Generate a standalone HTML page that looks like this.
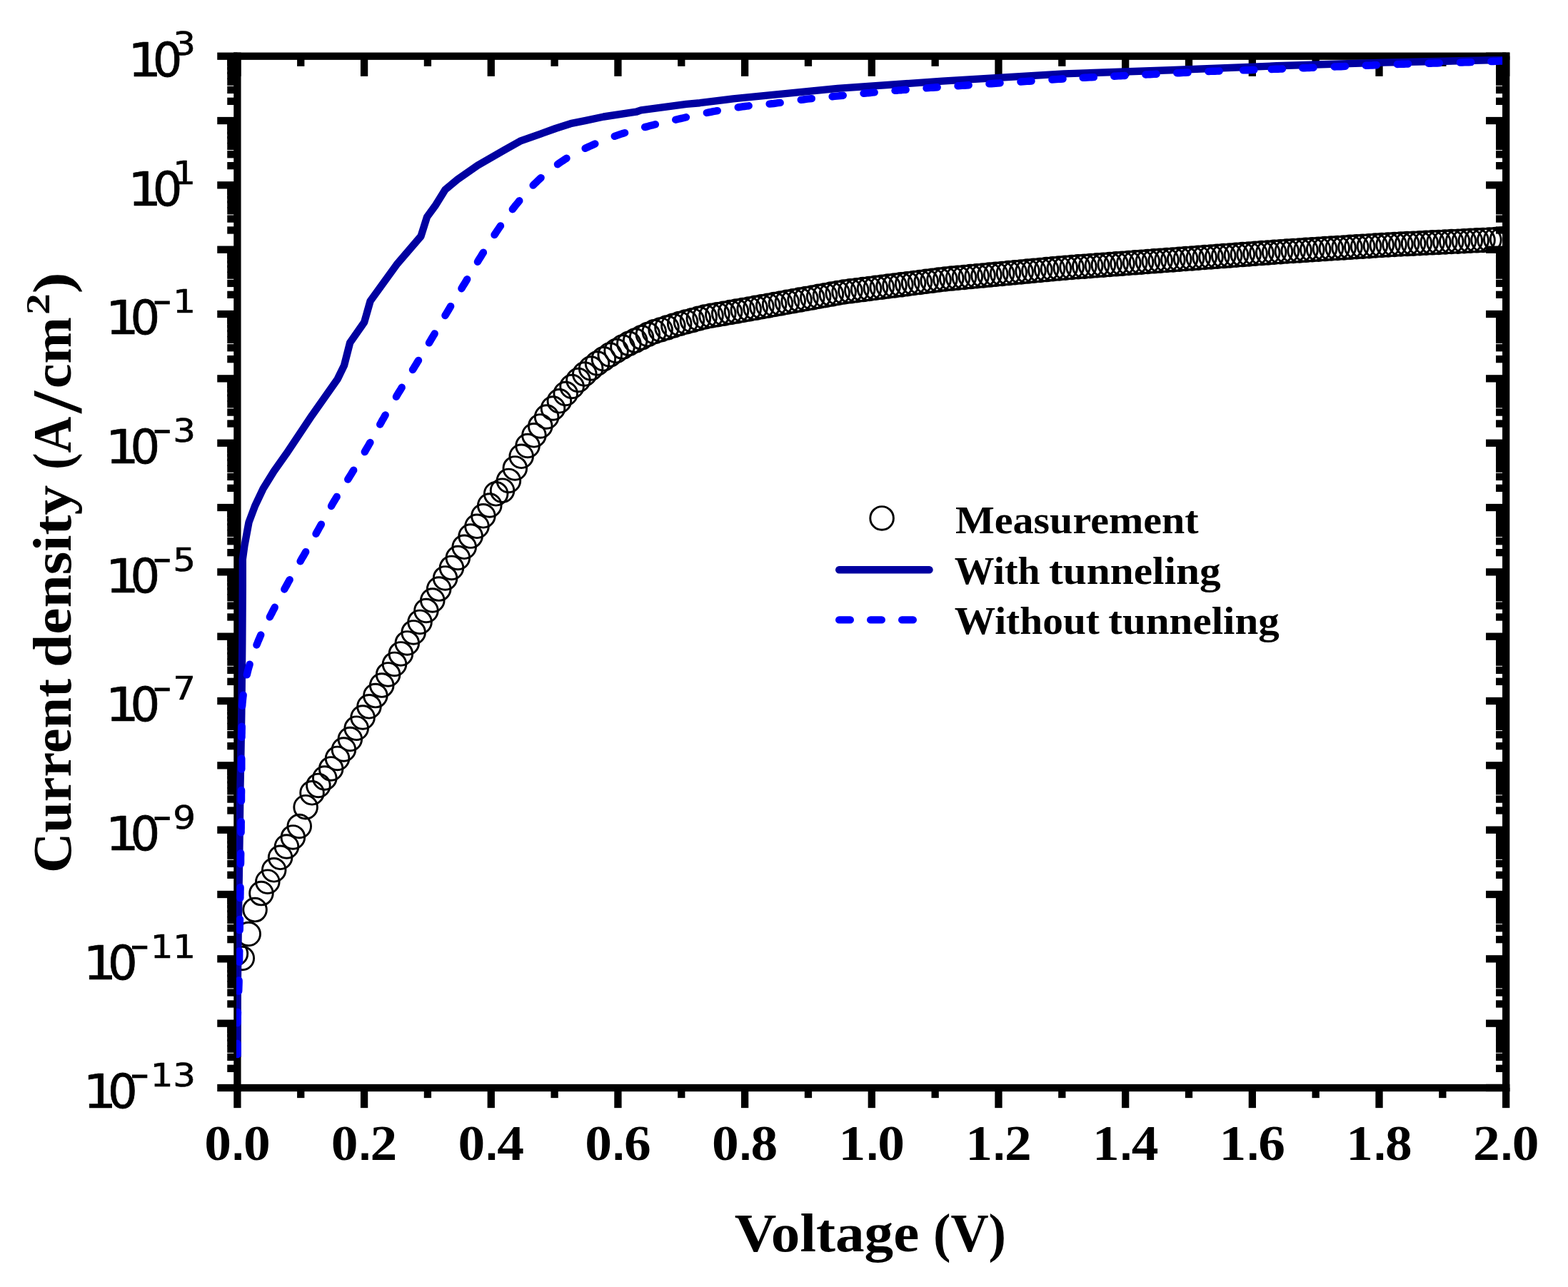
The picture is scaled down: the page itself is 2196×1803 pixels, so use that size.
<!DOCTYPE html>
<html><head><meta charset="utf-8"><title>Current density vs Voltage</title>
<style>html,body{margin:0;padding:0;background:#fff;overflow:hidden;width:2196px;height:1803px;}svg{display:block;}</style></head>
<body><svg width="2196" height="1803" viewBox="0 0 2196 1803">
<defs><clipPath id="plotclip"><rect x="331" y="78.4" width="1773.1" height="1450.6"/></clipPath></defs>
<rect width="2196" height="1803" fill="#fff"/>
<rect x="327.25" y="73.55" width="1787.10" height="10.30" fill="#000"/>
<rect x="327.25" y="1518.85" width="1787.10" height="10.30" fill="#000"/>
<rect x="327.25" y="73.55" width="10.30" height="1455.60" fill="#000"/>
<rect x="2104.05" y="73.55" width="10.30" height="1455.60" fill="#000"/>
<rect x="327.25" y="1524.00" width="10.30" height="28.15" fill="#000"/>
<rect x="327.25" y="78.70" width="10.30" height="28.15" fill="#000"/>
<rect x="416.09" y="1524.00" width="10.30" height="14.15" fill="#000"/>
<rect x="416.09" y="78.70" width="10.30" height="14.15" fill="#000"/>
<rect x="504.93" y="1524.00" width="10.30" height="28.15" fill="#000"/>
<rect x="504.93" y="78.70" width="10.30" height="28.15" fill="#000"/>
<rect x="593.77" y="1524.00" width="10.30" height="14.15" fill="#000"/>
<rect x="593.77" y="78.70" width="10.30" height="14.15" fill="#000"/>
<rect x="682.61" y="1524.00" width="10.30" height="28.15" fill="#000"/>
<rect x="682.61" y="78.70" width="10.30" height="28.15" fill="#000"/>
<rect x="771.45" y="1524.00" width="10.30" height="14.15" fill="#000"/>
<rect x="771.45" y="78.70" width="10.30" height="14.15" fill="#000"/>
<rect x="860.29" y="1524.00" width="10.30" height="28.15" fill="#000"/>
<rect x="860.29" y="78.70" width="10.30" height="28.15" fill="#000"/>
<rect x="949.13" y="1524.00" width="10.30" height="14.15" fill="#000"/>
<rect x="949.13" y="78.70" width="10.30" height="14.15" fill="#000"/>
<rect x="1037.97" y="1524.00" width="10.30" height="28.15" fill="#000"/>
<rect x="1037.97" y="78.70" width="10.30" height="28.15" fill="#000"/>
<rect x="1126.81" y="1524.00" width="10.30" height="14.15" fill="#000"/>
<rect x="1126.81" y="78.70" width="10.30" height="14.15" fill="#000"/>
<rect x="1215.65" y="1524.00" width="10.30" height="28.15" fill="#000"/>
<rect x="1215.65" y="78.70" width="10.30" height="28.15" fill="#000"/>
<rect x="1304.49" y="1524.00" width="10.30" height="14.15" fill="#000"/>
<rect x="1304.49" y="78.70" width="10.30" height="14.15" fill="#000"/>
<rect x="1393.33" y="1524.00" width="10.30" height="28.15" fill="#000"/>
<rect x="1393.33" y="78.70" width="10.30" height="28.15" fill="#000"/>
<rect x="1482.17" y="1524.00" width="10.30" height="14.15" fill="#000"/>
<rect x="1482.17" y="78.70" width="10.30" height="14.15" fill="#000"/>
<rect x="1571.01" y="1524.00" width="10.30" height="28.15" fill="#000"/>
<rect x="1571.01" y="78.70" width="10.30" height="28.15" fill="#000"/>
<rect x="1659.85" y="1524.00" width="10.30" height="14.15" fill="#000"/>
<rect x="1659.85" y="78.70" width="10.30" height="14.15" fill="#000"/>
<rect x="1748.69" y="1524.00" width="10.30" height="28.15" fill="#000"/>
<rect x="1748.69" y="78.70" width="10.30" height="28.15" fill="#000"/>
<rect x="1837.53" y="1524.00" width="10.30" height="14.15" fill="#000"/>
<rect x="1837.53" y="78.70" width="10.30" height="14.15" fill="#000"/>
<rect x="1926.37" y="1524.00" width="10.30" height="28.15" fill="#000"/>
<rect x="1926.37" y="78.70" width="10.30" height="28.15" fill="#000"/>
<rect x="2015.21" y="1524.00" width="10.30" height="14.15" fill="#000"/>
<rect x="2015.21" y="78.70" width="10.30" height="14.15" fill="#000"/>
<rect x="2104.05" y="1524.00" width="10.30" height="28.15" fill="#000"/>
<rect x="2104.05" y="78.70" width="10.30" height="28.15" fill="#000"/>
<rect x="304.25" y="1518.85" width="28.15" height="10.30" fill="#000"/>
<rect x="2081.05" y="1518.85" width="28.15" height="10.30" fill="#000"/>
<rect x="318.25" y="1491.66" width="14.15" height="10.30" fill="#000"/>
<rect x="2095.05" y="1491.66" width="14.15" height="10.30" fill="#000"/>
<rect x="318.25" y="1475.75" width="14.15" height="10.30" fill="#000"/>
<rect x="2095.05" y="1475.75" width="14.15" height="10.30" fill="#000"/>
<rect x="318.25" y="1464.47" width="14.15" height="10.30" fill="#000"/>
<rect x="2095.05" y="1464.47" width="14.15" height="10.30" fill="#000"/>
<rect x="318.25" y="1455.71" width="14.15" height="10.30" fill="#000"/>
<rect x="2095.05" y="1455.71" width="14.15" height="10.30" fill="#000"/>
<rect x="318.25" y="1448.56" width="14.15" height="10.30" fill="#000"/>
<rect x="2095.05" y="1448.56" width="14.15" height="10.30" fill="#000"/>
<rect x="318.25" y="1442.51" width="14.15" height="10.30" fill="#000"/>
<rect x="2095.05" y="1442.51" width="14.15" height="10.30" fill="#000"/>
<rect x="318.25" y="1437.27" width="14.15" height="10.30" fill="#000"/>
<rect x="2095.05" y="1437.27" width="14.15" height="10.30" fill="#000"/>
<rect x="318.25" y="1432.65" width="14.15" height="10.30" fill="#000"/>
<rect x="2095.05" y="1432.65" width="14.15" height="10.30" fill="#000"/>
<rect x="304.25" y="1428.52" width="28.15" height="10.30" fill="#000"/>
<rect x="2081.05" y="1428.52" width="28.15" height="10.30" fill="#000"/>
<rect x="318.25" y="1401.33" width="14.15" height="10.30" fill="#000"/>
<rect x="2095.05" y="1401.33" width="14.15" height="10.30" fill="#000"/>
<rect x="318.25" y="1385.42" width="14.15" height="10.30" fill="#000"/>
<rect x="2095.05" y="1385.42" width="14.15" height="10.30" fill="#000"/>
<rect x="318.25" y="1374.13" width="14.15" height="10.30" fill="#000"/>
<rect x="2095.05" y="1374.13" width="14.15" height="10.30" fill="#000"/>
<rect x="318.25" y="1365.38" width="14.15" height="10.30" fill="#000"/>
<rect x="2095.05" y="1365.38" width="14.15" height="10.30" fill="#000"/>
<rect x="318.25" y="1358.23" width="14.15" height="10.30" fill="#000"/>
<rect x="2095.05" y="1358.23" width="14.15" height="10.30" fill="#000"/>
<rect x="318.25" y="1352.18" width="14.15" height="10.30" fill="#000"/>
<rect x="2095.05" y="1352.18" width="14.15" height="10.30" fill="#000"/>
<rect x="318.25" y="1346.94" width="14.15" height="10.30" fill="#000"/>
<rect x="2095.05" y="1346.94" width="14.15" height="10.30" fill="#000"/>
<rect x="318.25" y="1342.32" width="14.15" height="10.30" fill="#000"/>
<rect x="2095.05" y="1342.32" width="14.15" height="10.30" fill="#000"/>
<rect x="304.25" y="1338.19" width="28.15" height="10.30" fill="#000"/>
<rect x="2081.05" y="1338.19" width="28.15" height="10.30" fill="#000"/>
<rect x="318.25" y="1311.00" width="14.15" height="10.30" fill="#000"/>
<rect x="2095.05" y="1311.00" width="14.15" height="10.30" fill="#000"/>
<rect x="318.25" y="1295.09" width="14.15" height="10.30" fill="#000"/>
<rect x="2095.05" y="1295.09" width="14.15" height="10.30" fill="#000"/>
<rect x="318.25" y="1283.80" width="14.15" height="10.30" fill="#000"/>
<rect x="2095.05" y="1283.80" width="14.15" height="10.30" fill="#000"/>
<rect x="318.25" y="1275.05" width="14.15" height="10.30" fill="#000"/>
<rect x="2095.05" y="1275.05" width="14.15" height="10.30" fill="#000"/>
<rect x="318.25" y="1267.90" width="14.15" height="10.30" fill="#000"/>
<rect x="2095.05" y="1267.90" width="14.15" height="10.30" fill="#000"/>
<rect x="318.25" y="1261.85" width="14.15" height="10.30" fill="#000"/>
<rect x="2095.05" y="1261.85" width="14.15" height="10.30" fill="#000"/>
<rect x="318.25" y="1256.61" width="14.15" height="10.30" fill="#000"/>
<rect x="2095.05" y="1256.61" width="14.15" height="10.30" fill="#000"/>
<rect x="318.25" y="1251.99" width="14.15" height="10.30" fill="#000"/>
<rect x="2095.05" y="1251.99" width="14.15" height="10.30" fill="#000"/>
<rect x="304.25" y="1247.86" width="28.15" height="10.30" fill="#000"/>
<rect x="2081.05" y="1247.86" width="28.15" height="10.30" fill="#000"/>
<rect x="318.25" y="1220.66" width="14.15" height="10.30" fill="#000"/>
<rect x="2095.05" y="1220.66" width="14.15" height="10.30" fill="#000"/>
<rect x="318.25" y="1204.76" width="14.15" height="10.30" fill="#000"/>
<rect x="2095.05" y="1204.76" width="14.15" height="10.30" fill="#000"/>
<rect x="318.25" y="1193.47" width="14.15" height="10.30" fill="#000"/>
<rect x="2095.05" y="1193.47" width="14.15" height="10.30" fill="#000"/>
<rect x="318.25" y="1184.72" width="14.15" height="10.30" fill="#000"/>
<rect x="2095.05" y="1184.72" width="14.15" height="10.30" fill="#000"/>
<rect x="318.25" y="1177.56" width="14.15" height="10.30" fill="#000"/>
<rect x="2095.05" y="1177.56" width="14.15" height="10.30" fill="#000"/>
<rect x="318.25" y="1171.52" width="14.15" height="10.30" fill="#000"/>
<rect x="2095.05" y="1171.52" width="14.15" height="10.30" fill="#000"/>
<rect x="318.25" y="1166.28" width="14.15" height="10.30" fill="#000"/>
<rect x="2095.05" y="1166.28" width="14.15" height="10.30" fill="#000"/>
<rect x="318.25" y="1161.66" width="14.15" height="10.30" fill="#000"/>
<rect x="2095.05" y="1161.66" width="14.15" height="10.30" fill="#000"/>
<rect x="304.25" y="1157.52" width="28.15" height="10.30" fill="#000"/>
<rect x="2081.05" y="1157.52" width="28.15" height="10.30" fill="#000"/>
<rect x="318.25" y="1130.33" width="14.15" height="10.30" fill="#000"/>
<rect x="2095.05" y="1130.33" width="14.15" height="10.30" fill="#000"/>
<rect x="318.25" y="1114.43" width="14.15" height="10.30" fill="#000"/>
<rect x="2095.05" y="1114.43" width="14.15" height="10.30" fill="#000"/>
<rect x="318.25" y="1103.14" width="14.15" height="10.30" fill="#000"/>
<rect x="2095.05" y="1103.14" width="14.15" height="10.30" fill="#000"/>
<rect x="318.25" y="1094.39" width="14.15" height="10.30" fill="#000"/>
<rect x="2095.05" y="1094.39" width="14.15" height="10.30" fill="#000"/>
<rect x="318.25" y="1087.23" width="14.15" height="10.30" fill="#000"/>
<rect x="2095.05" y="1087.23" width="14.15" height="10.30" fill="#000"/>
<rect x="318.25" y="1081.19" width="14.15" height="10.30" fill="#000"/>
<rect x="2095.05" y="1081.19" width="14.15" height="10.30" fill="#000"/>
<rect x="318.25" y="1075.95" width="14.15" height="10.30" fill="#000"/>
<rect x="2095.05" y="1075.95" width="14.15" height="10.30" fill="#000"/>
<rect x="318.25" y="1071.33" width="14.15" height="10.30" fill="#000"/>
<rect x="2095.05" y="1071.33" width="14.15" height="10.30" fill="#000"/>
<rect x="304.25" y="1067.19" width="28.15" height="10.30" fill="#000"/>
<rect x="2081.05" y="1067.19" width="28.15" height="10.30" fill="#000"/>
<rect x="318.25" y="1040.00" width="14.15" height="10.30" fill="#000"/>
<rect x="2095.05" y="1040.00" width="14.15" height="10.30" fill="#000"/>
<rect x="318.25" y="1024.09" width="14.15" height="10.30" fill="#000"/>
<rect x="2095.05" y="1024.09" width="14.15" height="10.30" fill="#000"/>
<rect x="318.25" y="1012.81" width="14.15" height="10.30" fill="#000"/>
<rect x="2095.05" y="1012.81" width="14.15" height="10.30" fill="#000"/>
<rect x="318.25" y="1004.05" width="14.15" height="10.30" fill="#000"/>
<rect x="2095.05" y="1004.05" width="14.15" height="10.30" fill="#000"/>
<rect x="318.25" y="996.90" width="14.15" height="10.30" fill="#000"/>
<rect x="2095.05" y="996.90" width="14.15" height="10.30" fill="#000"/>
<rect x="318.25" y="990.85" width="14.15" height="10.30" fill="#000"/>
<rect x="2095.05" y="990.85" width="14.15" height="10.30" fill="#000"/>
<rect x="318.25" y="985.62" width="14.15" height="10.30" fill="#000"/>
<rect x="2095.05" y="985.62" width="14.15" height="10.30" fill="#000"/>
<rect x="318.25" y="981.00" width="14.15" height="10.30" fill="#000"/>
<rect x="2095.05" y="981.00" width="14.15" height="10.30" fill="#000"/>
<rect x="304.25" y="976.86" width="28.15" height="10.30" fill="#000"/>
<rect x="2081.05" y="976.86" width="28.15" height="10.30" fill="#000"/>
<rect x="318.25" y="949.67" width="14.15" height="10.30" fill="#000"/>
<rect x="2095.05" y="949.67" width="14.15" height="10.30" fill="#000"/>
<rect x="318.25" y="933.76" width="14.15" height="10.30" fill="#000"/>
<rect x="2095.05" y="933.76" width="14.15" height="10.30" fill="#000"/>
<rect x="318.25" y="922.48" width="14.15" height="10.30" fill="#000"/>
<rect x="2095.05" y="922.48" width="14.15" height="10.30" fill="#000"/>
<rect x="318.25" y="913.72" width="14.15" height="10.30" fill="#000"/>
<rect x="2095.05" y="913.72" width="14.15" height="10.30" fill="#000"/>
<rect x="318.25" y="906.57" width="14.15" height="10.30" fill="#000"/>
<rect x="2095.05" y="906.57" width="14.15" height="10.30" fill="#000"/>
<rect x="318.25" y="900.52" width="14.15" height="10.30" fill="#000"/>
<rect x="2095.05" y="900.52" width="14.15" height="10.30" fill="#000"/>
<rect x="318.25" y="895.29" width="14.15" height="10.30" fill="#000"/>
<rect x="2095.05" y="895.29" width="14.15" height="10.30" fill="#000"/>
<rect x="318.25" y="890.66" width="14.15" height="10.30" fill="#000"/>
<rect x="2095.05" y="890.66" width="14.15" height="10.30" fill="#000"/>
<rect x="304.25" y="886.53" width="28.15" height="10.30" fill="#000"/>
<rect x="2081.05" y="886.53" width="28.15" height="10.30" fill="#000"/>
<rect x="318.25" y="859.34" width="14.15" height="10.30" fill="#000"/>
<rect x="2095.05" y="859.34" width="14.15" height="10.30" fill="#000"/>
<rect x="318.25" y="843.43" width="14.15" height="10.30" fill="#000"/>
<rect x="2095.05" y="843.43" width="14.15" height="10.30" fill="#000"/>
<rect x="318.25" y="832.15" width="14.15" height="10.30" fill="#000"/>
<rect x="2095.05" y="832.15" width="14.15" height="10.30" fill="#000"/>
<rect x="318.25" y="823.39" width="14.15" height="10.30" fill="#000"/>
<rect x="2095.05" y="823.39" width="14.15" height="10.30" fill="#000"/>
<rect x="318.25" y="816.24" width="14.15" height="10.30" fill="#000"/>
<rect x="2095.05" y="816.24" width="14.15" height="10.30" fill="#000"/>
<rect x="318.25" y="810.19" width="14.15" height="10.30" fill="#000"/>
<rect x="2095.05" y="810.19" width="14.15" height="10.30" fill="#000"/>
<rect x="318.25" y="804.95" width="14.15" height="10.30" fill="#000"/>
<rect x="2095.05" y="804.95" width="14.15" height="10.30" fill="#000"/>
<rect x="318.25" y="800.33" width="14.15" height="10.30" fill="#000"/>
<rect x="2095.05" y="800.33" width="14.15" height="10.30" fill="#000"/>
<rect x="304.25" y="796.20" width="28.15" height="10.30" fill="#000"/>
<rect x="2081.05" y="796.20" width="28.15" height="10.30" fill="#000"/>
<rect x="318.25" y="769.01" width="14.15" height="10.30" fill="#000"/>
<rect x="2095.05" y="769.01" width="14.15" height="10.30" fill="#000"/>
<rect x="318.25" y="753.10" width="14.15" height="10.30" fill="#000"/>
<rect x="2095.05" y="753.10" width="14.15" height="10.30" fill="#000"/>
<rect x="318.25" y="741.82" width="14.15" height="10.30" fill="#000"/>
<rect x="2095.05" y="741.82" width="14.15" height="10.30" fill="#000"/>
<rect x="318.25" y="733.06" width="14.15" height="10.30" fill="#000"/>
<rect x="2095.05" y="733.06" width="14.15" height="10.30" fill="#000"/>
<rect x="318.25" y="725.91" width="14.15" height="10.30" fill="#000"/>
<rect x="2095.05" y="725.91" width="14.15" height="10.30" fill="#000"/>
<rect x="318.25" y="719.86" width="14.15" height="10.30" fill="#000"/>
<rect x="2095.05" y="719.86" width="14.15" height="10.30" fill="#000"/>
<rect x="318.25" y="714.62" width="14.15" height="10.30" fill="#000"/>
<rect x="2095.05" y="714.62" width="14.15" height="10.30" fill="#000"/>
<rect x="318.25" y="710.00" width="14.15" height="10.30" fill="#000"/>
<rect x="2095.05" y="710.00" width="14.15" height="10.30" fill="#000"/>
<rect x="304.25" y="705.87" width="28.15" height="10.30" fill="#000"/>
<rect x="2081.05" y="705.87" width="28.15" height="10.30" fill="#000"/>
<rect x="318.25" y="678.68" width="14.15" height="10.30" fill="#000"/>
<rect x="2095.05" y="678.68" width="14.15" height="10.30" fill="#000"/>
<rect x="318.25" y="662.77" width="14.15" height="10.30" fill="#000"/>
<rect x="2095.05" y="662.77" width="14.15" height="10.30" fill="#000"/>
<rect x="318.25" y="651.48" width="14.15" height="10.30" fill="#000"/>
<rect x="2095.05" y="651.48" width="14.15" height="10.30" fill="#000"/>
<rect x="318.25" y="642.73" width="14.15" height="10.30" fill="#000"/>
<rect x="2095.05" y="642.73" width="14.15" height="10.30" fill="#000"/>
<rect x="318.25" y="635.58" width="14.15" height="10.30" fill="#000"/>
<rect x="2095.05" y="635.58" width="14.15" height="10.30" fill="#000"/>
<rect x="318.25" y="629.53" width="14.15" height="10.30" fill="#000"/>
<rect x="2095.05" y="629.53" width="14.15" height="10.30" fill="#000"/>
<rect x="318.25" y="624.29" width="14.15" height="10.30" fill="#000"/>
<rect x="2095.05" y="624.29" width="14.15" height="10.30" fill="#000"/>
<rect x="318.25" y="619.67" width="14.15" height="10.30" fill="#000"/>
<rect x="2095.05" y="619.67" width="14.15" height="10.30" fill="#000"/>
<rect x="304.25" y="615.54" width="28.15" height="10.30" fill="#000"/>
<rect x="2081.05" y="615.54" width="28.15" height="10.30" fill="#000"/>
<rect x="318.25" y="588.35" width="14.15" height="10.30" fill="#000"/>
<rect x="2095.05" y="588.35" width="14.15" height="10.30" fill="#000"/>
<rect x="318.25" y="572.44" width="14.15" height="10.30" fill="#000"/>
<rect x="2095.05" y="572.44" width="14.15" height="10.30" fill="#000"/>
<rect x="318.25" y="561.15" width="14.15" height="10.30" fill="#000"/>
<rect x="2095.05" y="561.15" width="14.15" height="10.30" fill="#000"/>
<rect x="318.25" y="552.40" width="14.15" height="10.30" fill="#000"/>
<rect x="2095.05" y="552.40" width="14.15" height="10.30" fill="#000"/>
<rect x="318.25" y="545.25" width="14.15" height="10.30" fill="#000"/>
<rect x="2095.05" y="545.25" width="14.15" height="10.30" fill="#000"/>
<rect x="318.25" y="539.20" width="14.15" height="10.30" fill="#000"/>
<rect x="2095.05" y="539.20" width="14.15" height="10.30" fill="#000"/>
<rect x="318.25" y="533.96" width="14.15" height="10.30" fill="#000"/>
<rect x="2095.05" y="533.96" width="14.15" height="10.30" fill="#000"/>
<rect x="318.25" y="529.34" width="14.15" height="10.30" fill="#000"/>
<rect x="2095.05" y="529.34" width="14.15" height="10.30" fill="#000"/>
<rect x="304.25" y="525.21" width="28.15" height="10.30" fill="#000"/>
<rect x="2081.05" y="525.21" width="28.15" height="10.30" fill="#000"/>
<rect x="318.25" y="498.01" width="14.15" height="10.30" fill="#000"/>
<rect x="2095.05" y="498.01" width="14.15" height="10.30" fill="#000"/>
<rect x="318.25" y="482.11" width="14.15" height="10.30" fill="#000"/>
<rect x="2095.05" y="482.11" width="14.15" height="10.30" fill="#000"/>
<rect x="318.25" y="470.82" width="14.15" height="10.30" fill="#000"/>
<rect x="2095.05" y="470.82" width="14.15" height="10.30" fill="#000"/>
<rect x="318.25" y="462.07" width="14.15" height="10.30" fill="#000"/>
<rect x="2095.05" y="462.07" width="14.15" height="10.30" fill="#000"/>
<rect x="318.25" y="454.91" width="14.15" height="10.30" fill="#000"/>
<rect x="2095.05" y="454.91" width="14.15" height="10.30" fill="#000"/>
<rect x="318.25" y="448.87" width="14.15" height="10.30" fill="#000"/>
<rect x="2095.05" y="448.87" width="14.15" height="10.30" fill="#000"/>
<rect x="318.25" y="443.63" width="14.15" height="10.30" fill="#000"/>
<rect x="2095.05" y="443.63" width="14.15" height="10.30" fill="#000"/>
<rect x="318.25" y="439.01" width="14.15" height="10.30" fill="#000"/>
<rect x="2095.05" y="439.01" width="14.15" height="10.30" fill="#000"/>
<rect x="304.25" y="434.88" width="28.15" height="10.30" fill="#000"/>
<rect x="2081.05" y="434.88" width="28.15" height="10.30" fill="#000"/>
<rect x="318.25" y="407.68" width="14.15" height="10.30" fill="#000"/>
<rect x="2095.05" y="407.68" width="14.15" height="10.30" fill="#000"/>
<rect x="318.25" y="391.78" width="14.15" height="10.30" fill="#000"/>
<rect x="2095.05" y="391.78" width="14.15" height="10.30" fill="#000"/>
<rect x="318.25" y="380.49" width="14.15" height="10.30" fill="#000"/>
<rect x="2095.05" y="380.49" width="14.15" height="10.30" fill="#000"/>
<rect x="318.25" y="371.74" width="14.15" height="10.30" fill="#000"/>
<rect x="2095.05" y="371.74" width="14.15" height="10.30" fill="#000"/>
<rect x="318.25" y="364.58" width="14.15" height="10.30" fill="#000"/>
<rect x="2095.05" y="364.58" width="14.15" height="10.30" fill="#000"/>
<rect x="318.25" y="358.54" width="14.15" height="10.30" fill="#000"/>
<rect x="2095.05" y="358.54" width="14.15" height="10.30" fill="#000"/>
<rect x="318.25" y="353.30" width="14.15" height="10.30" fill="#000"/>
<rect x="2095.05" y="353.30" width="14.15" height="10.30" fill="#000"/>
<rect x="318.25" y="348.68" width="14.15" height="10.30" fill="#000"/>
<rect x="2095.05" y="348.68" width="14.15" height="10.30" fill="#000"/>
<rect x="304.25" y="344.54" width="28.15" height="10.30" fill="#000"/>
<rect x="2081.05" y="344.54" width="28.15" height="10.30" fill="#000"/>
<rect x="318.25" y="317.35" width="14.15" height="10.30" fill="#000"/>
<rect x="2095.05" y="317.35" width="14.15" height="10.30" fill="#000"/>
<rect x="318.25" y="301.44" width="14.15" height="10.30" fill="#000"/>
<rect x="2095.05" y="301.44" width="14.15" height="10.30" fill="#000"/>
<rect x="318.25" y="290.16" width="14.15" height="10.30" fill="#000"/>
<rect x="2095.05" y="290.16" width="14.15" height="10.30" fill="#000"/>
<rect x="318.25" y="281.40" width="14.15" height="10.30" fill="#000"/>
<rect x="2095.05" y="281.40" width="14.15" height="10.30" fill="#000"/>
<rect x="318.25" y="274.25" width="14.15" height="10.30" fill="#000"/>
<rect x="2095.05" y="274.25" width="14.15" height="10.30" fill="#000"/>
<rect x="318.25" y="268.20" width="14.15" height="10.30" fill="#000"/>
<rect x="2095.05" y="268.20" width="14.15" height="10.30" fill="#000"/>
<rect x="318.25" y="262.97" width="14.15" height="10.30" fill="#000"/>
<rect x="2095.05" y="262.97" width="14.15" height="10.30" fill="#000"/>
<rect x="318.25" y="258.35" width="14.15" height="10.30" fill="#000"/>
<rect x="2095.05" y="258.35" width="14.15" height="10.30" fill="#000"/>
<rect x="304.25" y="254.21" width="28.15" height="10.30" fill="#000"/>
<rect x="2081.05" y="254.21" width="28.15" height="10.30" fill="#000"/>
<rect x="318.25" y="227.02" width="14.15" height="10.30" fill="#000"/>
<rect x="2095.05" y="227.02" width="14.15" height="10.30" fill="#000"/>
<rect x="318.25" y="211.11" width="14.15" height="10.30" fill="#000"/>
<rect x="2095.05" y="211.11" width="14.15" height="10.30" fill="#000"/>
<rect x="318.25" y="199.83" width="14.15" height="10.30" fill="#000"/>
<rect x="2095.05" y="199.83" width="14.15" height="10.30" fill="#000"/>
<rect x="318.25" y="191.07" width="14.15" height="10.30" fill="#000"/>
<rect x="2095.05" y="191.07" width="14.15" height="10.30" fill="#000"/>
<rect x="318.25" y="183.92" width="14.15" height="10.30" fill="#000"/>
<rect x="2095.05" y="183.92" width="14.15" height="10.30" fill="#000"/>
<rect x="318.25" y="177.87" width="14.15" height="10.30" fill="#000"/>
<rect x="2095.05" y="177.87" width="14.15" height="10.30" fill="#000"/>
<rect x="318.25" y="172.64" width="14.15" height="10.30" fill="#000"/>
<rect x="2095.05" y="172.64" width="14.15" height="10.30" fill="#000"/>
<rect x="318.25" y="168.01" width="14.15" height="10.30" fill="#000"/>
<rect x="2095.05" y="168.01" width="14.15" height="10.30" fill="#000"/>
<rect x="304.25" y="163.88" width="28.15" height="10.30" fill="#000"/>
<rect x="2081.05" y="163.88" width="28.15" height="10.30" fill="#000"/>
<rect x="318.25" y="136.69" width="14.15" height="10.30" fill="#000"/>
<rect x="2095.05" y="136.69" width="14.15" height="10.30" fill="#000"/>
<rect x="318.25" y="120.78" width="14.15" height="10.30" fill="#000"/>
<rect x="2095.05" y="120.78" width="14.15" height="10.30" fill="#000"/>
<rect x="318.25" y="109.50" width="14.15" height="10.30" fill="#000"/>
<rect x="2095.05" y="109.50" width="14.15" height="10.30" fill="#000"/>
<rect x="318.25" y="100.74" width="14.15" height="10.30" fill="#000"/>
<rect x="2095.05" y="100.74" width="14.15" height="10.30" fill="#000"/>
<rect x="318.25" y="93.59" width="14.15" height="10.30" fill="#000"/>
<rect x="2095.05" y="93.59" width="14.15" height="10.30" fill="#000"/>
<rect x="318.25" y="87.54" width="14.15" height="10.30" fill="#000"/>
<rect x="2095.05" y="87.54" width="14.15" height="10.30" fill="#000"/>
<rect x="318.25" y="82.30" width="14.15" height="10.30" fill="#000"/>
<rect x="2095.05" y="82.30" width="14.15" height="10.30" fill="#000"/>
<rect x="318.25" y="77.68" width="14.15" height="10.30" fill="#000"/>
<rect x="2095.05" y="77.68" width="14.15" height="10.30" fill="#000"/>
<rect x="304.25" y="73.55" width="28.15" height="10.30" fill="#000"/>
<rect x="2081.05" y="73.55" width="28.15" height="10.30" fill="#000"/>
<g clip-path="url(#plotclip)">
<g fill="none" stroke="#000" stroke-width="2.9"><circle cx="330.40" cy="1336.00" r="16.3"/><circle cx="339.28" cy="1342.50" r="16.3"/><circle cx="348.17" cy="1308.50" r="16.3"/><circle cx="357.05" cy="1274.60" r="16.3"/><circle cx="365.94" cy="1251.60" r="16.3"/><circle cx="374.82" cy="1235.20" r="16.3"/><circle cx="383.70" cy="1218.80" r="16.3"/><circle cx="392.59" cy="1201.30" r="16.3"/><circle cx="401.47" cy="1186.00" r="16.3"/><circle cx="410.36" cy="1172.90" r="16.3"/><circle cx="419.24" cy="1157.50" r="16.3"/><circle cx="428.12" cy="1130.70" r="16.3"/><circle cx="437.01" cy="1110.80" r="16.3"/><circle cx="445.89" cy="1100.40" r="16.3"/><circle cx="454.78" cy="1090.00" r="16.3"/><circle cx="463.66" cy="1076.90" r="16.3"/><circle cx="472.54" cy="1062.40" r="16.3"/><circle cx="481.43" cy="1050.00" r="16.3"/><circle cx="490.31" cy="1035.50" r="16.3"/><circle cx="499.20" cy="1020.20" r="16.3"/><circle cx="508.08" cy="1005.00" r="16.3"/><circle cx="516.96" cy="989.80" r="16.3"/><circle cx="525.85" cy="974.60" r="16.3"/><circle cx="534.73" cy="960.10" r="16.3"/><circle cx="543.62" cy="944.90" r="16.3"/><circle cx="552.50" cy="930.40" r="16.3"/><circle cx="561.38" cy="915.90" r="16.3"/><circle cx="570.27" cy="900.90" r="16.3"/><circle cx="579.15" cy="885.90" r="16.3"/><circle cx="588.04" cy="871.40" r="16.3"/><circle cx="596.92" cy="855.50" r="16.3"/><circle cx="605.80" cy="841.00" r="16.3"/><circle cx="614.69" cy="825.10" r="16.3"/><circle cx="623.57" cy="809.90" r="16.3"/><circle cx="632.46" cy="795.40" r="16.3"/><circle cx="641.34" cy="781.50" r="16.3"/><circle cx="650.22" cy="766.30" r="16.3"/><circle cx="659.11" cy="751.10" r="16.3"/><circle cx="667.99" cy="737.30" r="16.3"/><circle cx="676.88" cy="722.80" r="16.3"/><circle cx="685.76" cy="708.00" r="16.3"/><circle cx="694.64" cy="691.80" r="16.3"/><circle cx="703.53" cy="687.20" r="16.3"/><circle cx="712.41" cy="673.40" r="16.3"/><circle cx="721.30" cy="655.90" r="16.3"/><circle cx="730.18" cy="639.30" r="16.3"/><circle cx="739.04" cy="624.50" r="16.3"/><circle cx="747.90" cy="609.80" r="16.3"/><circle cx="756.76" cy="596.90" r="16.3"/><circle cx="765.62" cy="584.00" r="16.3"/><circle cx="774.48" cy="572.00" r="16.3"/><circle cx="783.35" cy="561.80" r="16.3"/><circle cx="792.21" cy="551.50" r="16.3"/><circle cx="801.07" cy="541.50" r="16.3"/><circle cx="809.93" cy="532.50" r="16.3"/><circle cx="818.79" cy="524.00" r="16.3"/><circle cx="827.65" cy="516.00" r="16.3"/><circle cx="836.51" cy="509.00" r="16.3"/><circle cx="845.37" cy="502.80" r="16.3"/><circle cx="854.23" cy="497.00" r="16.3"/><circle cx="863.09" cy="491.54" r="16.3"/><circle cx="871.96" cy="486.08" r="16.3"/><circle cx="880.82" cy="481.34" r="16.3"/><circle cx="889.68" cy="477.09" r="16.3"/><circle cx="898.54" cy="472.83" r="16.3"/><circle cx="907.40" cy="468.57" r="16.3"/><circle cx="916.26" cy="464.80" r="16.3"/><circle cx="925.12" cy="461.96" r="16.3"/><circle cx="933.98" cy="459.11" r="16.3"/><circle cx="942.84" cy="456.26" r="16.3"/><circle cx="951.70" cy="453.46" r="16.3"/><circle cx="960.57" cy="451.07" r="16.3"/><circle cx="969.43" cy="448.67" r="16.3"/><circle cx="978.29" cy="446.27" r="16.3"/><circle cx="987.15" cy="443.88" r="16.3"/><circle cx="996.01" cy="442.18" r="16.3"/><circle cx="1004.87" cy="440.66" r="16.3"/><circle cx="1013.73" cy="439.14" r="16.3"/><circle cx="1022.59" cy="437.62" r="16.3"/><circle cx="1031.45" cy="436.09" r="16.3"/><circle cx="1040.31" cy="434.56" r="16.3"/><circle cx="1049.18" cy="432.95" r="16.3"/><circle cx="1058.04" cy="431.35" r="16.3"/><circle cx="1066.90" cy="429.74" r="16.3"/><circle cx="1075.76" cy="428.14" r="16.3"/><circle cx="1084.62" cy="426.53" r="16.3"/><circle cx="1093.48" cy="424.93" r="16.3"/><circle cx="1102.34" cy="423.32" r="16.3"/><circle cx="1111.20" cy="421.72" r="16.3"/><circle cx="1120.06" cy="420.11" r="16.3"/><circle cx="1128.92" cy="418.51" r="16.3"/><circle cx="1137.79" cy="416.90" r="16.3"/><circle cx="1146.65" cy="415.30" r="16.3"/><circle cx="1155.51" cy="413.69" r="16.3"/><circle cx="1164.37" cy="412.09" r="16.3"/><circle cx="1173.23" cy="410.48" r="16.3"/><circle cx="1182.09" cy="408.97" r="16.3"/><circle cx="1190.95" cy="407.84" r="16.3"/><circle cx="1199.81" cy="406.71" r="16.3"/><circle cx="1208.67" cy="405.58" r="16.3"/><circle cx="1217.53" cy="404.45" r="16.3"/><circle cx="1226.40" cy="403.32" r="16.3"/><circle cx="1235.26" cy="402.19" r="16.3"/><circle cx="1244.12" cy="401.06" r="16.3"/><circle cx="1252.98" cy="399.92" r="16.3"/><circle cx="1261.84" cy="398.79" r="16.3"/><circle cx="1270.70" cy="397.66" r="16.3"/><circle cx="1279.56" cy="396.53" r="16.3"/><circle cx="1288.42" cy="395.40" r="16.3"/><circle cx="1297.28" cy="394.27" r="16.3"/><circle cx="1306.14" cy="393.14" r="16.3"/><circle cx="1315.01" cy="392.00" r="16.3"/><circle cx="1323.87" cy="390.93" r="16.3"/><circle cx="1332.73" cy="390.10" r="16.3"/><circle cx="1341.59" cy="389.27" r="16.3"/><circle cx="1350.45" cy="388.44" r="16.3"/><circle cx="1359.31" cy="387.60" r="16.3"/><circle cx="1368.17" cy="386.77" r="16.3"/><circle cx="1377.03" cy="385.94" r="16.3"/><circle cx="1385.89" cy="385.11" r="16.3"/><circle cx="1394.75" cy="384.27" r="16.3"/><circle cx="1403.62" cy="383.44" r="16.3"/><circle cx="1412.48" cy="382.61" r="16.3"/><circle cx="1421.34" cy="381.78" r="16.3"/><circle cx="1430.20" cy="380.94" r="16.3"/><circle cx="1439.06" cy="380.11" r="16.3"/><circle cx="1447.92" cy="379.28" r="16.3"/><circle cx="1456.78" cy="378.45" r="16.3"/><circle cx="1465.64" cy="377.61" r="16.3"/><circle cx="1474.50" cy="376.78" r="16.3"/><circle cx="1483.36" cy="375.95" r="16.3"/><circle cx="1492.23" cy="375.13" r="16.3"/><circle cx="1501.09" cy="374.47" r="16.3"/><circle cx="1509.95" cy="373.81" r="16.3"/><circle cx="1518.81" cy="373.15" r="16.3"/><circle cx="1527.67" cy="372.49" r="16.3"/><circle cx="1536.53" cy="371.82" r="16.3"/><circle cx="1545.39" cy="371.16" r="16.3"/><circle cx="1554.25" cy="370.50" r="16.3"/><circle cx="1563.11" cy="369.84" r="16.3"/><circle cx="1571.97" cy="369.18" r="16.3"/><circle cx="1580.84" cy="368.52" r="16.3"/><circle cx="1589.70" cy="367.85" r="16.3"/><circle cx="1598.56" cy="367.19" r="16.3"/><circle cx="1607.42" cy="366.53" r="16.3"/><circle cx="1616.28" cy="365.87" r="16.3"/><circle cx="1625.14" cy="365.21" r="16.3"/><circle cx="1634.00" cy="364.54" r="16.3"/><circle cx="1642.86" cy="363.88" r="16.3"/><circle cx="1651.72" cy="363.22" r="16.3"/><circle cx="1660.59" cy="362.56" r="16.3"/><circle cx="1669.45" cy="361.90" r="16.3"/><circle cx="1678.31" cy="361.24" r="16.3"/><circle cx="1687.17" cy="360.57" r="16.3"/><circle cx="1696.03" cy="359.91" r="16.3"/><circle cx="1704.89" cy="359.25" r="16.3"/><circle cx="1713.75" cy="358.59" r="16.3"/><circle cx="1722.61" cy="357.93" r="16.3"/><circle cx="1731.47" cy="357.27" r="16.3"/><circle cx="1740.33" cy="356.60" r="16.3"/><circle cx="1749.19" cy="355.94" r="16.3"/><circle cx="1758.06" cy="355.28" r="16.3"/><circle cx="1766.92" cy="354.62" r="16.3"/><circle cx="1775.78" cy="353.96" r="16.3"/><circle cx="1784.64" cy="353.29" r="16.3"/><circle cx="1793.50" cy="352.63" r="16.3"/><circle cx="1802.36" cy="352.04" r="16.3"/><circle cx="1811.22" cy="351.47" r="16.3"/><circle cx="1820.08" cy="350.90" r="16.3"/><circle cx="1828.94" cy="350.33" r="16.3"/><circle cx="1837.80" cy="349.76" r="16.3"/><circle cx="1846.67" cy="349.19" r="16.3"/><circle cx="1855.53" cy="348.62" r="16.3"/><circle cx="1864.39" cy="348.05" r="16.3"/><circle cx="1873.25" cy="347.48" r="16.3"/><circle cx="1882.11" cy="346.91" r="16.3"/><circle cx="1890.97" cy="346.34" r="16.3"/><circle cx="1899.83" cy="345.77" r="16.3"/><circle cx="1908.69" cy="345.20" r="16.3"/><circle cx="1917.55" cy="344.63" r="16.3"/><circle cx="1926.41" cy="344.06" r="16.3"/><circle cx="1935.28" cy="343.48" r="16.3"/><circle cx="1944.14" cy="342.91" r="16.3"/><circle cx="1953.00" cy="342.45" r="16.3"/><circle cx="1961.86" cy="342.02" r="16.3"/><circle cx="1970.72" cy="341.59" r="16.3"/><circle cx="1979.58" cy="341.16" r="16.3"/><circle cx="1988.44" cy="340.73" r="16.3"/><circle cx="1997.30" cy="340.30" r="16.3"/><circle cx="2006.16" cy="339.87" r="16.3"/><circle cx="2015.02" cy="339.44" r="16.3"/><circle cx="2023.89" cy="339.00" r="16.3"/><circle cx="2032.75" cy="338.57" r="16.3"/><circle cx="2041.61" cy="338.14" r="16.3"/><circle cx="2050.47" cy="337.71" r="16.3"/><circle cx="2059.33" cy="337.28" r="16.3"/><circle cx="2068.19" cy="336.85" r="16.3"/><circle cx="2077.05" cy="336.42" r="16.3"/><circle cx="2085.91" cy="335.96" r="16.3"/><circle cx="2094.77" cy="335.48" r="16.3"/><circle cx="2103.63" cy="335.00" r="16.3"/></g>
<polyline points="332.4,1481.0 332.6,1400.0 333.7,1300.0 335.5,1180.0 336.5,1100.0 337.3,1060.0 338.3,1000.0 339.3,900.0 339.8,820.0 339.8,783.6 342.4,764.6 348.5,731.8 357.1,708.7 368.6,684.5 383.6,660.3 400.9,635.8 436.9,581.9 472.8,530.9 482.0,512.0 490.2,479.9 510.1,451.6 518.6,421.8 555.5,370.7 589.5,331.0 598.0,304.0 609.4,288.4 623.5,265.7 640.6,251.6 668.9,231.7 705.8,210.4 728.5,197.7 757.0,187.6 778.0,180.0 799.1,173.2 820.4,168.9 845.5,163.5 890.9,156.7 897.7,154.4 961.3,145.9 980.0,144.2 1026.6,138.4 1173.2,123.9 1319.8,113.6 1490.0,103.4 1638.9,98.3 1787.9,92.3 1936.8,87.6 2110.0,83.8" fill="none" stroke="#0000A0" stroke-width="10.4" stroke-linejoin="round" stroke-linecap="butt"/>
<g fill="none" stroke="#0000FF" stroke-width="10.4" stroke-linejoin="round" stroke-linecap="round"><polyline points="332.6,1477.1 332.6,1474.1 332.6,1471.0 332.6,1468.0 332.6,1464.9 332.6,1461.9"/><polyline points="332.7,1433.1 332.7,1430.1 332.8,1427.0 332.8,1424.0 332.9,1420.9 333.0,1417.9"/><polyline points="334.2,1388.6 334.3,1385.6 334.4,1382.5 334.5,1379.5 334.6,1376.4 334.6,1373.4"/><polyline points="335.1,1347.6 335.1,1344.6 335.1,1341.5 335.2,1338.5 335.2,1335.4 335.3,1332.4"/><polyline points="335.7,1303.1 335.8,1300.1 335.8,1297.0 335.9,1294.0 335.9,1290.9 336.0,1287.9"/><polyline points="336.4,1258.1 336.4,1255.1 336.5,1252.0 336.5,1249.0 336.6,1245.9 336.6,1242.9"/><polyline points="337.0,1210.4 337.1,1207.4 337.1,1204.3 337.1,1201.3 337.2,1198.2 337.2,1195.2"/><polyline points="337.6,1166.2 337.6,1163.2 337.7,1160.1 337.7,1157.1 337.7,1154.0 337.8,1151.0"/><polyline points="338.0,1122.1 338.0,1119.1 338.0,1116.0 338.0,1113.0 338.1,1109.9 338.1,1106.9"/><polyline points="338.3,1077.6 338.3,1074.6 338.3,1071.5 338.3,1068.5 338.3,1065.4 338.3,1062.4"/><polyline points="338.5,1032.9 338.5,1029.9 338.6,1026.8 338.6,1023.8 338.7,1020.7 338.7,1017.7"/><polyline points="339.2,988.8 339.4,985.7 339.7,982.7 340.0,979.7 340.3,976.7 340.7,973.7"/><polyline points="345.8,945.4 346.5,942.4 347.2,939.5 348.0,936.5 348.8,933.6 349.7,930.7"/><polyline points="359.4,903.5 360.6,900.7 361.7,897.9 362.9,895.1 364.1,892.3 365.3,889.5"/><polyline points="377.8,864.4 379.2,861.7 380.6,859.0 382.0,856.2 383.4,853.5 384.8,850.8"/><polyline points="398.3,825.5 399.8,822.8 401.3,820.1 402.7,817.5 404.2,814.8 405.7,812.2"/><polyline points="420.6,786.3 422.1,783.7 423.6,781.0 425.2,778.4 426.7,775.7 428.2,773.1"/><polyline points="442.5,747.8 444.0,745.2 445.5,742.5 446.9,739.9 448.4,737.2 449.9,734.6"/><polyline points="464.0,709.0 465.5,706.3 467.0,703.7 468.6,701.1 470.1,698.5 471.7,695.9"/><polyline points="487.2,671.6 488.8,669.1 490.4,666.5 492.0,663.9 493.6,661.3 495.2,658.7"/><polyline points="510.8,633.1 512.3,630.4 513.8,627.8 515.4,625.2 516.9,622.5 518.4,619.9"/><polyline points="532.2,594.6 533.7,592.0 535.1,589.3 536.7,586.7 538.2,584.0 539.7,581.4"/><polyline points="554.9,555.8 556.4,553.2 558.0,550.6 559.6,548.0 561.2,545.4 562.7,542.8"/><polyline points="578.0,518.0 579.6,515.4 581.2,512.8 582.8,510.2 584.4,507.6 586.0,505.0"/><polyline points="600.9,480.4 602.5,477.8 604.0,475.2 605.6,472.6 607.1,470.0 608.7,467.4"/><polyline points="623.4,442.1 625.0,439.5 626.5,436.9 628.1,434.3 629.6,431.7 631.2,429.1"/><polyline points="646.4,404.2 647.9,401.6 649.5,399.0 651.1,396.4 652.7,393.8 654.2,391.2"/><polyline points="668.9,366.7 670.5,364.1 672.1,361.5 673.7,358.9 675.3,356.3 676.9,353.7"/><polyline points="692.5,329.0 694.2,326.5 695.8,324.0 697.6,321.4 699.3,318.9 701.0,316.4"/><polyline points="717.8,293.2 719.7,290.8 721.5,288.4 723.5,286.0 725.4,283.7 727.3,281.3"/><polyline points="746.6,259.6 748.7,257.5 750.9,255.4 753.1,253.3 755.3,251.2 757.6,249.1"/><polyline points="780.9,230.2 783.3,228.5 785.8,226.8 788.4,225.1 790.9,223.4 793.5,221.8"/><polyline points="819.6,207.8 822.4,206.5 825.1,205.2 827.9,204.0 830.7,202.7 833.4,201.5"/><polyline points="860.7,190.9 863.6,189.9 866.5,188.9 869.3,187.9 872.2,187.0 875.1,186.1"/><polyline points="903.1,178.1 906.1,177.4 909.0,176.6 912.0,175.8 914.9,175.1 917.9,174.3"/><polyline points="946.2,167.7 949.2,167.0 952.1,166.3 955.1,165.7 958.0,165.0 961.0,164.3"/><polyline points="989.8,158.0 992.8,157.4 995.8,156.8 998.8,156.2 1001.8,155.7 1004.8,155.1"/><polyline points="1033.7,150.3 1036.7,149.8 1039.7,149.4 1042.7,149.0 1045.7,148.6 1048.7,148.3"/><polyline points="1077.6,145.6 1080.7,145.3 1083.7,145.0 1086.7,144.6 1089.7,144.2 1092.7,143.9"/><polyline points="1121.7,139.8 1124.7,139.5 1127.7,139.1 1130.7,138.7 1133.7,138.4 1136.8,138.1"/><polyline points="1165.6,135.2 1168.7,134.9 1171.7,134.6 1174.7,134.3 1177.7,134.0 1180.8,133.7"/><polyline points="1209.5,130.8 1212.6,130.5 1215.6,130.2 1218.6,130.0 1221.6,129.7 1224.7,129.4"/><polyline points="1253.5,126.9 1256.6,126.7 1259.6,126.4 1262.6,126.2 1265.6,125.9 1268.7,125.7"/><polyline points="1297.5,123.4 1300.6,123.1 1303.6,122.9 1306.6,122.7 1309.6,122.5 1312.7,122.3"/><polyline points="1341.5,120.3 1344.6,120.1 1347.6,119.9 1350.6,119.7 1353.6,119.5 1356.7,119.3"/><polyline points="1385.4,117.4 1388.4,117.2 1391.5,117.0 1394.5,116.8 1397.6,116.6 1400.6,116.4"/><polyline points="1429.4,114.5 1432.5,114.3 1435.5,114.1 1438.5,113.9 1441.5,113.7 1444.6,113.5"/><polyline points="1473.4,111.5 1476.4,111.3 1479.5,111.1 1482.5,110.9 1485.6,110.7 1488.6,110.5"/><polyline points="1516.7,108.9 1519.7,108.7 1522.8,108.6 1525.8,108.4 1528.9,108.2 1531.9,108.1"/><polyline points="1560.2,106.7 1563.2,106.6 1566.3,106.4 1569.3,106.3 1572.4,106.1 1575.4,106.0"/><polyline points="1604.4,104.5 1607.4,104.4 1610.5,104.2 1613.5,104.1 1616.6,103.9 1619.6,103.8"/><polyline points="1648.3,102.3 1651.3,102.2 1654.4,102.0 1657.4,101.9 1660.5,101.7 1663.5,101.6"/><polyline points="1692.5,100.1 1695.5,99.9 1698.6,99.8 1701.6,99.7 1704.7,99.6 1707.7,99.5"/><polyline points="1741.1,98.4 1744.1,98.3 1747.2,98.2 1750.2,98.1 1753.3,98.0 1756.3,97.9"/><polyline points="1780.7,97.1 1783.7,96.9 1786.8,96.8 1789.8,96.7 1792.9,96.6 1795.9,96.5"/><polyline points="1824.3,95.3 1827.3,95.2 1830.4,95.1 1833.4,95.0 1836.5,94.8 1839.5,94.7"/><polyline points="1868.8,93.5 1871.8,93.4 1874.9,93.3 1877.9,93.2 1881.0,93.1 1884.0,92.9"/><polyline points="1912.8,91.8 1915.8,91.7 1918.9,91.6 1921.9,91.5 1925.0,91.3 1928.0,91.2"/><polyline points="1956.9,90.0 1959.9,89.9 1963.0,89.8 1966.0,89.7 1969.1,89.6 1972.1,89.5"/><polyline points="2000.6,88.8 2003.6,88.7 2006.7,88.6 2009.7,88.5 2012.8,88.5 2015.8,88.4"/><polyline points="2045.0,87.6 2048.0,87.5 2051.1,87.4 2054.1,87.3 2057.2,87.2 2060.2,87.1"/><polyline points="2088.4,86.1 2091.4,86.0 2094.5,85.9 2097.5,85.8 2100.6,85.6 2103.6,85.5"/></g>
</g>
<text transform="translate(332.40,1624.6) scale(1.075,1)" text-anchor="middle" style="font-family:'Liberation Serif',serif;font-weight:bold;font-size:70.2px">0<tspan dx="-0.6" style="font-family:'DejaVu Sans',sans-serif;font-size:49px">.</tspan><tspan dx="-2.2">0</tspan></text>
<text transform="translate(510.08,1624.6) scale(1.075,1)" text-anchor="middle" style="font-family:'Liberation Serif',serif;font-weight:bold;font-size:70.2px">0<tspan dx="-0.6" style="font-family:'DejaVu Sans',sans-serif;font-size:49px">.</tspan><tspan dx="-2.2">2</tspan></text>
<text transform="translate(687.76,1624.6) scale(1.075,1)" text-anchor="middle" style="font-family:'Liberation Serif',serif;font-weight:bold;font-size:70.2px">0<tspan dx="-0.6" style="font-family:'DejaVu Sans',sans-serif;font-size:49px">.</tspan><tspan dx="-2.2">4</tspan></text>
<text transform="translate(865.44,1624.6) scale(1.075,1)" text-anchor="middle" style="font-family:'Liberation Serif',serif;font-weight:bold;font-size:70.2px">0<tspan dx="-0.6" style="font-family:'DejaVu Sans',sans-serif;font-size:49px">.</tspan><tspan dx="-2.2">6</tspan></text>
<text transform="translate(1043.12,1624.6) scale(1.075,1)" text-anchor="middle" style="font-family:'Liberation Serif',serif;font-weight:bold;font-size:70.2px">0<tspan dx="-0.6" style="font-family:'DejaVu Sans',sans-serif;font-size:49px">.</tspan><tspan dx="-2.2">8</tspan></text>
<text transform="translate(1220.80,1624.6) scale(1.075,1)" text-anchor="middle" style="font-family:'Liberation Serif',serif;font-weight:bold;font-size:70.2px">1<tspan dx="-0.6" style="font-family:'DejaVu Sans',sans-serif;font-size:49px">.</tspan><tspan dx="-2.2">0</tspan></text>
<text transform="translate(1398.48,1624.6) scale(1.075,1)" text-anchor="middle" style="font-family:'Liberation Serif',serif;font-weight:bold;font-size:70.2px">1<tspan dx="-0.6" style="font-family:'DejaVu Sans',sans-serif;font-size:49px">.</tspan><tspan dx="-2.2">2</tspan></text>
<text transform="translate(1576.16,1624.6) scale(1.075,1)" text-anchor="middle" style="font-family:'Liberation Serif',serif;font-weight:bold;font-size:70.2px">1<tspan dx="-0.6" style="font-family:'DejaVu Sans',sans-serif;font-size:49px">.</tspan><tspan dx="-2.2">4</tspan></text>
<text transform="translate(1753.84,1624.6) scale(1.075,1)" text-anchor="middle" style="font-family:'Liberation Serif',serif;font-weight:bold;font-size:70.2px">1<tspan dx="-0.6" style="font-family:'DejaVu Sans',sans-serif;font-size:49px">.</tspan><tspan dx="-2.2">6</tspan></text>
<text transform="translate(1931.52,1624.6) scale(1.075,1)" text-anchor="middle" style="font-family:'Liberation Serif',serif;font-weight:bold;font-size:70.2px">1<tspan dx="-0.6" style="font-family:'DejaVu Sans',sans-serif;font-size:49px">.</tspan><tspan dx="-2.2">8</tspan></text>
<text transform="translate(2109.20,1624.6) scale(1.075,1)" text-anchor="middle" style="font-family:'Liberation Serif',serif;font-weight:bold;font-size:70.2px">2<tspan dx="-0.6" style="font-family:'DejaVu Sans',sans-serif;font-size:49px">.</tspan><tspan dx="-2.2">0</tspan></text>
<text x="213.68" y="107.00" style="font-family:'DejaVu Sans',sans-serif;font-size:65.5px" stroke="#000" stroke-width="0.8" stroke-linejoin="round">0</text>
<text transform="translate(187.00,107.00) scale(1.14,1)" x="-7.21" y="0" style="font-family:'DejaVu Sans',sans-serif;font-size:65.5px" stroke="#000" stroke-width="0.7" stroke-linejoin="round">1</text>
<text transform="translate(242.30,76.90) scale(1.11,1)" style="font-family:'DejaVu Sans',sans-serif;font-size:45.0px" stroke="#000" stroke-width="0.6" stroke-linejoin="round">3</text>
<text x="213.68" y="287.66" style="font-family:'DejaVu Sans',sans-serif;font-size:65.5px" stroke="#000" stroke-width="0.8" stroke-linejoin="round">0</text>
<text transform="translate(187.00,287.66) scale(1.14,1)" x="-7.21" y="0" style="font-family:'DejaVu Sans',sans-serif;font-size:65.5px" stroke="#000" stroke-width="0.7" stroke-linejoin="round">1</text>
<text transform="translate(242.30,257.56) scale(1.11,1)" style="font-family:'DejaVu Sans',sans-serif;font-size:45.0px" stroke="#000" stroke-width="0.6" stroke-linejoin="round">1</text>
<rect x="216.50" y="421.53" width="21.3" height="4.8" fill="#000"/>
<text x="182.38" y="468.33" style="font-family:'DejaVu Sans',sans-serif;font-size:65.5px" stroke="#000" stroke-width="0.8" stroke-linejoin="round">0</text>
<text transform="translate(155.70,468.33) scale(1.14,1)" x="-7.21" y="0" style="font-family:'DejaVu Sans',sans-serif;font-size:65.5px" stroke="#000" stroke-width="0.7" stroke-linejoin="round">1</text>
<text transform="translate(242.30,438.23) scale(1.11,1)" style="font-family:'DejaVu Sans',sans-serif;font-size:45.0px" stroke="#000" stroke-width="0.6" stroke-linejoin="round">1</text>
<rect x="216.50" y="602.19" width="21.3" height="4.8" fill="#000"/>
<text x="182.38" y="648.99" style="font-family:'DejaVu Sans',sans-serif;font-size:65.5px" stroke="#000" stroke-width="0.8" stroke-linejoin="round">0</text>
<text transform="translate(155.70,648.99) scale(1.14,1)" x="-7.21" y="0" style="font-family:'DejaVu Sans',sans-serif;font-size:65.5px" stroke="#000" stroke-width="0.7" stroke-linejoin="round">1</text>
<text transform="translate(242.30,618.89) scale(1.11,1)" style="font-family:'DejaVu Sans',sans-serif;font-size:45.0px" stroke="#000" stroke-width="0.6" stroke-linejoin="round">3</text>
<rect x="216.50" y="782.85" width="21.3" height="4.8" fill="#000"/>
<text x="182.38" y="829.65" style="font-family:'DejaVu Sans',sans-serif;font-size:65.5px" stroke="#000" stroke-width="0.8" stroke-linejoin="round">0</text>
<text transform="translate(155.70,829.65) scale(1.14,1)" x="-7.21" y="0" style="font-family:'DejaVu Sans',sans-serif;font-size:65.5px" stroke="#000" stroke-width="0.7" stroke-linejoin="round">1</text>
<text transform="translate(242.30,799.55) scale(1.11,1)" style="font-family:'DejaVu Sans',sans-serif;font-size:45.0px" stroke="#000" stroke-width="0.6" stroke-linejoin="round">5</text>
<rect x="216.50" y="963.51" width="21.3" height="4.8" fill="#000"/>
<text x="182.38" y="1010.31" style="font-family:'DejaVu Sans',sans-serif;font-size:65.5px" stroke="#000" stroke-width="0.8" stroke-linejoin="round">0</text>
<text transform="translate(155.70,1010.31) scale(1.14,1)" x="-7.21" y="0" style="font-family:'DejaVu Sans',sans-serif;font-size:65.5px" stroke="#000" stroke-width="0.7" stroke-linejoin="round">1</text>
<text transform="translate(242.30,980.21) scale(1.11,1)" style="font-family:'DejaVu Sans',sans-serif;font-size:45.0px" stroke="#000" stroke-width="0.6" stroke-linejoin="round">7</text>
<rect x="216.50" y="1144.17" width="21.3" height="4.8" fill="#000"/>
<text x="182.38" y="1190.97" style="font-family:'DejaVu Sans',sans-serif;font-size:65.5px" stroke="#000" stroke-width="0.8" stroke-linejoin="round">0</text>
<text transform="translate(155.70,1190.97) scale(1.14,1)" x="-7.21" y="0" style="font-family:'DejaVu Sans',sans-serif;font-size:65.5px" stroke="#000" stroke-width="0.7" stroke-linejoin="round">1</text>
<text transform="translate(242.30,1160.88) scale(1.11,1)" style="font-family:'DejaVu Sans',sans-serif;font-size:45.0px" stroke="#000" stroke-width="0.6" stroke-linejoin="round">9</text>
<rect x="185.00" y="1324.84" width="21.3" height="4.8" fill="#000"/>
<text x="150.88" y="1371.64" style="font-family:'DejaVu Sans',sans-serif;font-size:65.5px" stroke="#000" stroke-width="0.8" stroke-linejoin="round">0</text>
<text transform="translate(124.20,1371.64) scale(1.14,1)" x="-7.21" y="0" style="font-family:'DejaVu Sans',sans-serif;font-size:65.5px" stroke="#000" stroke-width="0.7" stroke-linejoin="round">1</text>
<text transform="translate(210.80,1341.54) scale(1.11,1)" style="font-family:'DejaVu Sans',sans-serif;font-size:45.0px" stroke="#000" stroke-width="0.6" stroke-linejoin="round">1</text>
<text transform="translate(242.30,1341.54) scale(1.11,1)" style="font-family:'DejaVu Sans',sans-serif;font-size:45.0px" stroke="#000" stroke-width="0.6" stroke-linejoin="round">1</text>
<rect x="185.00" y="1505.50" width="21.3" height="4.8" fill="#000"/>
<text x="150.88" y="1552.30" style="font-family:'DejaVu Sans',sans-serif;font-size:65.5px" stroke="#000" stroke-width="0.8" stroke-linejoin="round">0</text>
<text transform="translate(124.20,1552.30) scale(1.14,1)" x="-7.21" y="0" style="font-family:'DejaVu Sans',sans-serif;font-size:65.5px" stroke="#000" stroke-width="0.7" stroke-linejoin="round">1</text>
<text transform="translate(210.80,1522.20) scale(1.11,1)" style="font-family:'DejaVu Sans',sans-serif;font-size:45.0px" stroke="#000" stroke-width="0.6" stroke-linejoin="round">1</text>
<text transform="translate(242.30,1522.20) scale(1.11,1)" style="font-family:'DejaVu Sans',sans-serif;font-size:45.0px" stroke="#000" stroke-width="0.6" stroke-linejoin="round">3</text>
<text transform="translate(1028.63,1753) scale(1.0682,1)" style="font-family:'Liberation Serif',serif;font-weight:bold;font-size:76px">Voltage</text>
<text transform="translate(1307.10,1753) scale(0.9667,1)" style="font-family:'Liberation Serif',serif;font-weight:bold;font-size:76px">(V)</text>
<text transform="translate(98.7,1223.12) rotate(-90) scale(1.0292,1)" style="font-family:'Liberation Serif',serif;font-weight:bold;font-size:76px">Current</text>
<text transform="translate(98.7,935.10) rotate(-90) scale(1.0991,1)" style="font-family:'Liberation Serif',serif;font-weight:bold;font-size:76px">density</text>
<text transform="translate(98.7,657.98) rotate(-90) scale(0.9260,1)" style="font-family:'Liberation Serif',serif;font-weight:bold;font-size:76px">(A</text>
<text transform="translate(113.3,578.65) rotate(-90) scale(1.448,1.32)" style="font-family:'Liberation Serif',serif;font-weight:bold;font-size:76px">/</text>
<text transform="translate(98.7,544.20) rotate(-90) scale(1.0323,1)" style="font-family:'Liberation Serif',serif;font-weight:bold;font-size:76px">cm</text>
<text transform="translate(69,441.00) rotate(-90) scale(1.3000,1)" style="font-family:'Liberation Serif',serif;font-weight:bold;font-size:46px">2</text>
<text transform="translate(98.7,411.38) rotate(-90) scale(1.1900,1)" style="font-family:'Liberation Serif',serif;font-weight:bold;font-size:76px">)</text>
<circle cx="1235.1" cy="725.9" r="16.3" fill="none" stroke="#000" stroke-width="2.9"/>
<line x1="1175.2" y1="798.3" x2="1301.5" y2="798.3" stroke="#0000A0" stroke-width="10.4" stroke-linecap="round"/>
<line x1="1175.2" y1="868.4" x2="1301.5" y2="868.4" stroke="#0000FF" stroke-width="10.4" stroke-linecap="round" stroke-dasharray="15.6 28.4"/>
<text transform="translate(1337.95,747) scale(1.0481,1)" style="font-family:'Liberation Serif',serif;font-weight:bold;font-size:55.4px">Measurement</text>
<text transform="translate(1336.79,818.2) scale(1.0068,1)" style="font-family:'Liberation Serif',serif;font-weight:bold;font-size:55.4px">With</text>
<text transform="translate(1468.93,818.2) scale(1.0713,1)" style="font-family:'Liberation Serif',serif;font-weight:bold;font-size:55.4px">tunneling</text>
<text transform="translate(1336.76,888.4) scale(1.0369,1)" style="font-family:'Liberation Serif',serif;font-weight:bold;font-size:55.4px">Without</text>
<text transform="translate(1552.23,888.4) scale(1.0664,1)" style="font-family:'Liberation Serif',serif;font-weight:bold;font-size:55.4px">tunneling</text>
</svg></body></html>
